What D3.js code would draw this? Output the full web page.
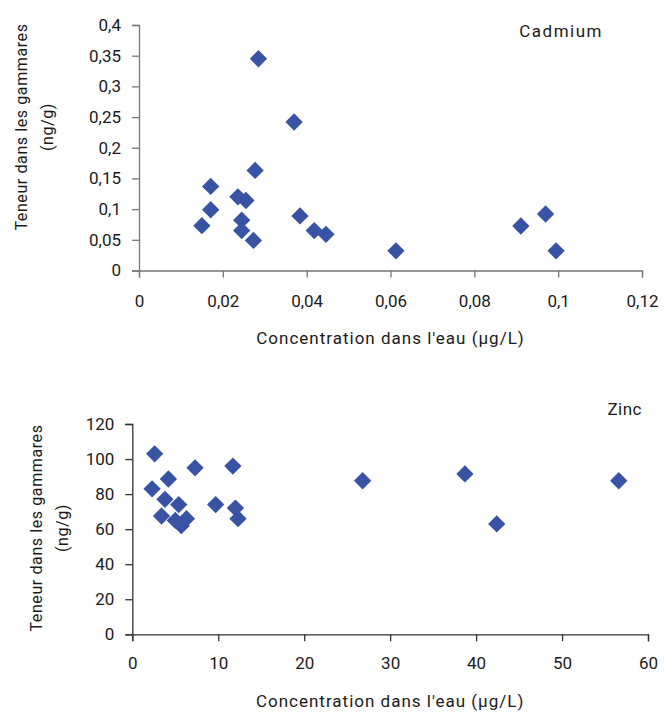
<!DOCTYPE html>
<html>
<head>
<meta charset="utf-8">
<script src="https://cdn.jsdelivr.net/npm/d3@7"></script>
<style>
  body { margin: 0; background: #fff; }
  svg text { font-family: Roboto, "DejaVu Sans Condensed", sans-serif; fill: #1a1a1a; }
</style>
</head>
<body>
<div id="chart"></div>
<script>
// Cadmium: concentration in water (µg/L) vs content in gammarids (ng/g)
const cdWater = [0.0285, 0.037, 0.0277, 0.0171, 0.0171, 0.015, 0.0236, 0.0255, 0.0245,
  0.0245, 0.0273, 0.0384, 0.0418, 0.0446, 0.0613, 0.0911, 0.097, 0.0995];
const cdGammare = [0.345, 0.242, 0.163, 0.137, 0.099, 0.073, 0.12, 0.114, 0.082,
  0.065, 0.049, 0.089, 0.065, 0.059, 0.032, 0.0725, 0.092, 0.032];

// Zinc
const znWater = [2.6, 2.3, 4.2, 3.8, 3.4, 5.4, 5.0, 5.7, 6.3, 7.3, 9.7, 11.7, 12.0, 12.3,
  26.8, 38.7, 42.4, 56.6];
const znGammare = [103, 83, 88.6, 77, 67.5, 74, 65, 62, 66, 95, 74, 96, 72, 66,
  87.6, 91.5, 63, 87.6];

const cdXTicks = [0, 0.02, 0.04, 0.06, 0.08, 0.1, 0.12];
const cdYTicks = [0, 0.05, 0.1, 0.15, 0.2, 0.25, 0.3, 0.35, 0.4];
const znXTicks = [0, 10, 20, 30, 40, 50, 60];
const znYTicks = [0, 20, 40, 60, 80, 100, 120];

const W = 664, H = 713;
const COLOR = '#3953a4';
const comma = d => String(d).replace('.', ',');

const svg = d3.select('#chart').append('svg')
  .attr('width', W)
  .attr('height', H);

function drawPanel(opts) {
  const x = d3.scaleLinear().domain(opts.xDomain).range([opts.left, opts.right]);
  const y = d3.scaleLinear().domain(opts.yDomain).range([opts.bottom, opts.top]);

  const gx = svg.append('g')
    .attr('transform', 'translate(0,' + opts.bottom + ')')
    .call(d3.axisBottom(x).tickValues(opts.xTicks).tickFormat(comma).tickSizeOuter(0).tickSize(7).tickPadding(opts.xPad));
  const gy = svg.append('g')
    .attr('transform', 'translate(' + opts.left + ',0)')
    .call(d3.axisLeft(y).tickValues(opts.yTicks).tickFormat(comma).tickSizeOuter(0).tickSize(7).tickPadding(11));

  [gx, gy].forEach(g => {
    g.selectAll('path, line').attr('stroke', opts.axisColor).attr('stroke-width', 1.3);
    g.selectAll('text').attr('font-size', 17).attr('fill', '#1a1a1a')
      .style('font-family', 'Roboto, sans-serif');
  });

  svg.append('g').selectAll('path')
    .data(opts.xs)
    .join('path')
    .attr('d', d3.symbol(d3.symbolSquare, 150))
    .attr('transform', (d, i) => 'translate(' + x(d) + ',' + y(opts.ys[i]) + ') rotate(45)')
    .attr('fill', COLOR);

  svg.append('text')
    .attr('x', (opts.left + opts.right) / 2 + opts.xTitleShift)
    .attr('y', opts.xTitleY)
    .attr('text-anchor', 'middle')
    .attr('font-size', 17)
    .attr('letter-spacing', 1.0)
    .text("Concentration dans l'eau (µg/L)");

  const yl = svg.append('text')
    .attr('transform', 'translate(' + opts.yTitleX + ',' + opts.yTitleY + ') rotate(-90)')
    .attr('text-anchor', 'middle')
    .attr('font-size', 16)
    .attr('letter-spacing', 0.6);
  yl.append('tspan').attr('x', 0).attr('dy', 0).text('Teneur dans les gammares');
  yl.append('tspan').attr('x', 0).attr('dy', 26).text('(ng/g)');

  svg.append('text')
    .attr('x', opts.nameX)
    .attr('y', opts.nameY)
    .attr('text-anchor', 'end')
    .attr('font-size', 17)
    .attr('letter-spacing', opts.nameSpacing)
    .text(opts.name);
}

drawPanel({
  xs: cdWater, ys: cdGammare,
  xDomain: [0, 0.12], yDomain: [0, 0.4],
  xTicks: cdXTicks, yTicks: cdYTicks,
  left: 139, right: 642, top: 25, bottom: 270.5,
  axisColor: '#777', xPad: 17,
  xTitleShift: 0, xTitleY: 344,
  yTitleX: 27, yTitleY: 127,
  name: 'Cadmium', nameX: 603, nameY: 37, nameSpacing: 1.5
});

drawPanel({
  xs: znWater, ys: znGammare,
  xDomain: [0, 60], yDomain: [0, 120],
  xTicks: znXTicks, yTicks: znYTicks,
  left: 132.3, right: 648, top: 424, bottom: 634.3,
  axisColor: '#333', xPad: 16,
  xTitleShift: 0, xTitleY: 707,
  yTitleX: 42, yTitleY: 528,
  name: 'Zinc', nameX: 642, nameY: 415, nameSpacing: 0.5
});
</script>
</body>
</html>
